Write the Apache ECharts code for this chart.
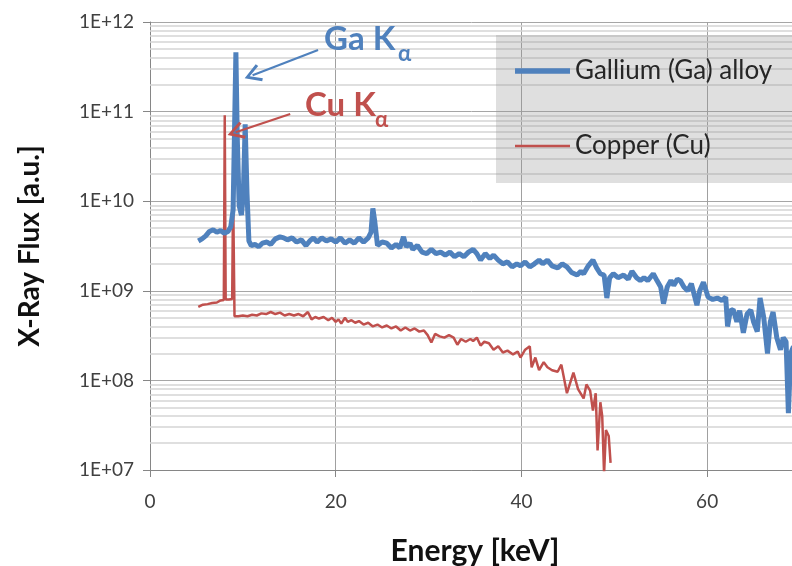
<!DOCTYPE html>
<html><head><meta charset="utf-8">
<script src="https://cdn.jsdelivr.net/npm/echarts@6/dist/echarts.min.js"></script>
<style>html,body{margin:0;padding:0;background:#fff}#c{width:792px;height:566px}</style>
</head><body><div id="c"></div>
<script>
const gaEnergy=[5.2,5.6,6.0,6.4,6.8,7.2,7.6,8.0,8.4,8.7,8.95,9.1,9.25,9.4,9.6,9.85,10.05,10.25,10.45,10.65,10.9,11.3,11.7,12.1,12.6,13.0,13.5,14.0,14.4,14.8,15.3,15.8,16.3,16.8,17.2,17.6,18.0,18.5,19.0,19.5,20.0,20.5,21.0,21.5,22.0,22.5,23.0,23.5,23.8,24.0,24.2,24.5,25.0,25.5,26.0,26.5,26.9,27.3,27.6,28.0,28.3,28.8,29.3,29.8,30.3,30.8,31.3,31.8,32.3,32.8,33.3,33.8,34.3,34.8,35.2,35.6,36.1,36.6,37.0,37.5,38.0,38.5,39.0,39.5,39.9,40.4,40.9,41.4,41.9,42.3,42.8,43.3,43.9,44.4,44.9,45.4,46.0,46.4,46.7,47.2,47.7,48.1,48.5,48.9,49.2,49.5,49.9,50.4,51.0,51.5,51.9,52.4,52.8,53.2,53.6,54.2,54.6,55.0,55.3,55.7,56.1,56.4,56.8,57.1,57.5,57.9,58.3,58.9,59.2,59.6,60.1,60.6,61.1,61.6,62.0,62.2,62.5,62.8,63.2,63.5,63.9,64.3,64.7,65.0,65.4,65.7,66.1,66.5,66.8,67.1,67.5,67.9,68.2,68.5,68.75,69.0,69.3];
const gaFlux=[3.6e9,3.8e9,4.1e9,4.6e9,4.8e9,4.5e9,4.7e9,4.4e9,4.6e9,5.2e9,8e9,6e10,4.6e11,5e10,9e9,7e9,1.2e10,7.2e10,1.2e10,3.6e9,3.2e9,3.3e9,3.1e9,3.4e9,3.5e9,3.3e9,3.8e9,4.0e9,3.9e9,3.7e9,3.9e9,3.5e9,3.7e9,3.2e9,3.6e9,3.9e9,3.5e9,3.9e9,3.6e9,3.8e9,3.5e9,3.9e9,3.4e9,3.7e9,3.4e9,3.9e9,3.5e9,3.9e9,4.5e9,8.3e9,6e9,3.2e9,3.5e9,3.4e9,3.0e9,3.3e9,3.0e9,4.0e9,3.1e9,3.4e9,2.9e9,3.2e9,2.7e9,2.6e9,2.9e9,2.6e9,2.7e9,2.5e9,2.7e9,2.4e9,2.6e9,2.4e9,2.7e9,2.9e9,2.6e9,2.2e9,2.6e9,2.3e9,2.5e9,2.2e9,2.0e9,2.1e9,1.85e9,2.0e9,1.9e9,2.1e9,1.85e9,2.0e9,2.2e9,2.0e9,2.2e9,1.9e9,1.8e9,2.0e9,1.85e9,1.6e9,1.5e9,1.65e9,1.55e9,1.9e9,2.2e9,1.8e9,1.55e9,1.5e9,8.3e8,1.4e9,1.55e9,1.4e9,1.5e9,1.35e9,1.65e9,1.4e9,1.3e9,1.4e9,1.3e9,1.55e9,1.3e9,1.1e9,7.2e8,1.1e9,1.3e9,1.15e9,1.35e9,1.3e9,1.1e9,1.0e9,1.2e9,6.9e8,1.0e9,1.25e9,8.5e8,8.0e8,8.3e8,7.8e8,8.5e8,4.0e8,6.0e8,6.2e8,4.5e8,6.0e8,3.4e8,5.5e8,6.1e8,4.5e8,3.5e8,8.3e8,5e8,2.0e8,4.5e8,5.8e8,3.0e8,2.2e8,3.0e8,2.7e8,4.3e7,2.0e8,2.4e8];
const cuEnergy=[5.2,5.7,6.2,6.7,7.2,7.6,7.95,8.05,8.15,8.5,8.85,8.95,9.1,9.5,10.0,10.5,11.0,11.5,12.0,12.5,13.0,13.5,14.0,14.5,15.0,15.5,16.0,16.5,17.0,17.4,17.8,18.2,18.7,19.2,19.6,20.0,20.3,20.6,21.0,21.3,21.7,22.1,22.5,23.0,23.5,24.0,24.5,25.0,25.5,26.0,26.5,27.0,27.5,28.0,28.5,29.0,29.5,29.9,30.3,30.7,31.2,31.7,32.2,32.7,33.1,33.5,34.0,34.5,34.8,35.2,35.6,36.0,36.5,37.0,37.5,38.0,38.5,39.1,39.6,39.9,40.4,40.9,41.1,41.5,41.9,42.4,42.8,43.3,43.9,44.3,44.9,45.6,46.1,46.7,47.0,47.4,47.7,48.0,48.2,48.5,48.7,48.9,49.1,49.4,49.6];
const cuFlux=[6.6e8,7.0e8,7.1e8,7.3e8,7.4e8,7.8e8,7.9e8,9.1e10,8.0e8,8.0e8,8.1e8,1.3e10,5.2e8,5.2e8,5.3e8,5.2e8,5.4e8,5.3e8,5.6e8,5.5e8,5.8e8,5.5e8,5.7e8,5.3e8,5.5e8,5.3e8,5.5e8,5.2e8,5.8e8,4.8e8,5.1e8,4.9e8,5.1e8,4.7e8,5.0e8,4.5e8,4.8e8,4.3e8,5.0e8,4.5e8,4.7e8,4.4e8,4.6e8,4.2e8,4.4e8,4.0e8,4.2e8,3.9e8,4.1e8,3.8e8,4.0e8,3.6e8,3.9e8,3.6e8,3.8e8,3.5e8,3.6e8,3.2e8,2.65e8,3.3e8,3.1e8,3.0e8,3.2e8,3.0e8,2.5e8,2.9e8,2.7e8,2.9e8,2.75e8,3.0e8,2.45e8,2.7e8,2.6e8,2.2e8,2.4e8,2.05e8,2.15e8,1.95e8,2.1e8,1.8e8,2.2e8,2.4e8,1.4e8,1.8e8,1.3e8,1.6e8,1.4e8,1.3e8,1.25e8,1.5e8,7.2e7,1.22e8,8e7,6.3e7,9e7,7.7e7,4.6e7,7.2e7,1.65e7,5.7e7,4e7,9e6,2.8e7,2.4e7,1.2e7];
const seriesNames=['Gallium (Ga) alloy','Copper (Cu)'];
const xTickValues=[0,20,40,60];
const yDecades=[7,8,9,10,11,12];
const yTickLabels=['1E+07','1E+08','1E+09','1E+10','1E+11','1E+12'];

const BLUE='#4f81bd', RED='#c0504d';
const zip=(a,b)=>a.map((x,i)=>[x,b[i]]);
const minorLines=[];
for(let d=7;d<12;d++){for(let m=2;m<=9;m++){minorLines.push({yAxis:m*Math.pow(10,d)});}}
const chevron='path://M5,0 L10,9 L8.6,10 L5,3.2 L1.4,10 L0,9 Z';

const chart=echarts.init(document.getElementById('c'),null,{renderer:'canvas'});
chart.setOption({
  animation:false,
  backgroundColor:'#fff',
  grid:{left:150,top:22,right:-8,bottom:96,outerBoundsMode:'none',containLabel:false},
  xAxis:{type:'value',min:0,max:70,interval:20,
    name:'Energy [keV]',nameLocation:'middle',nameGap:66,
    nameTextStyle:{fontFamily:'Lato',fontWeight:'bold',fontSize:30,color:'#111'},
    axisLine:{lineStyle:{color:'#868686',width:1}},
    axisTick:{show:true,length:7,lineStyle:{color:'#868686'}},
    axisLabel:{margin:22,fontFamily:'Lato',fontSize:19,color:'#404040',showMaxLabel:false,
      formatter:v=>xTickValues.includes(v)?String(v):''},
    splitLine:{show:true,lineStyle:{color:'#a0a0a0',width:1}}
  },
  yAxis:{type:'log',logBase:10,min:1e7,max:1e12,
    name:'X-Ray Flux [a.u.]',nameLocation:'middle',nameGap:106,
    nameTextStyle:{fontFamily:'Lato',fontWeight:'bold',fontSize:28,color:'#111'},
    axisLine:{show:true,lineStyle:{color:'#868686',width:1}},
    axisTick:{show:true,length:7,lineStyle:{color:'#868686'}},
    axisLabel:{margin:16,fontFamily:'Lato',fontSize:19,color:'#404040',
      formatter:v=>{const e=Math.round(Math.log10(v));const i=yDecades.indexOf(e);return i>=0?yTickLabels[i]:'';}},
    splitLine:{show:true,lineStyle:{color:'#a6a6a6',width:1}}
  },
  legend:{orient:'vertical',left:496,top:35,padding:[23,40,24,19],itemGap:49,itemWidth:55,itemHeight:14,
    backgroundColor:'rgba(150,150,150,0.3)',
    textStyle:{fontFamily:'Lato',fontSize:26,color:'#262626'},
    data:[
      {name:seriesNames[0],icon:'path://M0,0 L110,0 L110,11 L0,11 Z'},
      {name:seriesNames[1],icon:'path://M0,0 L110,0 L110,5 L0,5 Z'}
    ]},
  series:[
    {type:'line',name:'minor',data:[],silent:true,z:1,
      markLine:{silent:true,z:1,symbol:['none','none'],label:{show:false},animation:false,
        lineStyle:{color:'#d4d4d4',width:1.5,type:'solid'},data:minorLines}},
    {type:'line',name:seriesNames[1],data:zip(cuEnergy,cuFlux),symbol:'none',z:3,
      lineStyle:{color:RED,width:2.5},itemStyle:{color:RED},
      markLine:{silent:true,z:5,symbol:['none',chevron],symbolSize:[18,17],label:{show:false},
        lineStyle:{color:RED,width:2.2,type:'solid'},
        data:[[{coord:[15.1,9.4e10]},{coord:[9.22,5.87e10]}]]}},
    {type:'line',name:seriesNames[0],data:zip(gaEnergy,gaFlux),symbol:'none',z:4,
      lineStyle:{color:BLUE,width:5},itemStyle:{color:BLUE},
      markLine:{silent:true,z:5,symbol:['none',chevron],symbolSize:[18,17],label:{show:false},
        lineStyle:{color:BLUE,width:2.2,type:'solid'},
        data:[[{coord:[18.1,4.87e11]},{coord:[11.05,2.55e11]}]]}}
  ],
  graphic:[
    {type:'text',left:324,top:23,z:10,style:{text:'Ga K',font:'bold 33px Lato',fill:BLUE}},
    {type:'text',left:398,top:43,z:10,style:{text:'α',font:'bold 22px Lato',fill:BLUE}},
    {type:'text',left:305,top:89,z:10,style:{text:'Cu K',font:'bold 33px Lato',fill:RED}},
    {type:'text',left:375,top:109,z:10,style:{text:'α',font:'bold 22px Lato',fill:RED}}
  ]
});
</script></body></html>
